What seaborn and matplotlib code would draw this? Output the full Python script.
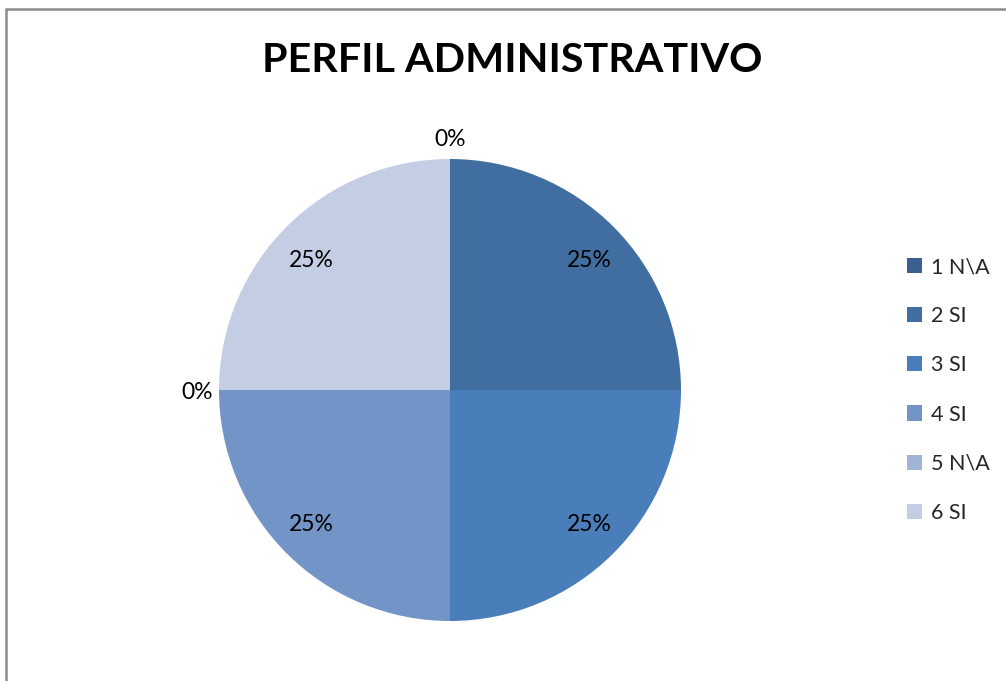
import matplotlib
matplotlib.use("Agg")
import matplotlib.pyplot as plt
import seaborn as sns
import numpy as np
from matplotlib.patches import Rectangle, Patch

sns.set_theme(style="white")
plt.rcParams['font.family'] = ['Lato', 'DejaVu Sans']

categories = ["1 N\\A", "2 SI", "3 SI", "4 SI", "5 N\\A", "6 SI"]
values = [0, 25, 25, 25, 0, 25]
colors = ["#3C5F8F", "#416EA1", "#4A7EBB", "#7394C6", "#A2B4D6", "#C3CDE3"]
title = "PERFIL ADMINISTRATIVO"

W, H = 1006, 681
fig = plt.figure(figsize=(W / 100, H / 100), dpi=100)
fig.patch.set_facecolor("white")

# frame border (top & left visible)
fig.add_artist(Rectangle((6 / W, -0.05), 1.2, (1 - 9 / H) + 0.05, transform=fig.transFigure,
                         fill=False, edgecolor="#8C8C8C", linewidth=1.8))

cx, cy, r = 450, 390, 231
ax = fig.add_axes([(cx - r) / W, (H - cy - r) / H, 2 * r / W, 2 * r / H])
wedges, _ = ax.pie(values, colors=colors, startangle=90, counterclock=False,
                   radius=1.0, wedgeprops=dict(linewidth=0))
ax.set_xlim(-1, 1)
ax.set_ylim(-1, 1)
ax.set_aspect("equal")
ax.axis("off")

total = sum(values)
for w, v in zip(wedges, values):
    ang = np.deg2rad((w.theta1 + w.theta2) / 2)
    if v == 0:
        x, y = 1.095 * np.cos(ang), 1.095 * np.sin(ang) - 0.01
    else:
        x, y = 0.85 * np.cos(ang), 0.81 * np.sin(ang) - 0.01
    ax.text(x, y, f"{round(100 * v / total)}%",
            ha="center", va="center", fontsize=16.5, color="black", clip_on=False)

fig.text(512 / W, 1 - 60 / H, title, ha="center", va="center",
         fontsize=29.7, fontweight="bold", color="black")

handles = [Patch(facecolor=c, edgecolor="none") for c in colors]
leg = fig.legend(handles, categories, loc="center left", bbox_to_anchor=(888 / W, 1 - 390 / H),
                 frameon=False, fontsize=15.5, handlelength=0.7, handleheight=0.7,
                 handletextpad=0.4, labelspacing=1.35)

fig.savefig("out.png", dpi=100, facecolor="white")
